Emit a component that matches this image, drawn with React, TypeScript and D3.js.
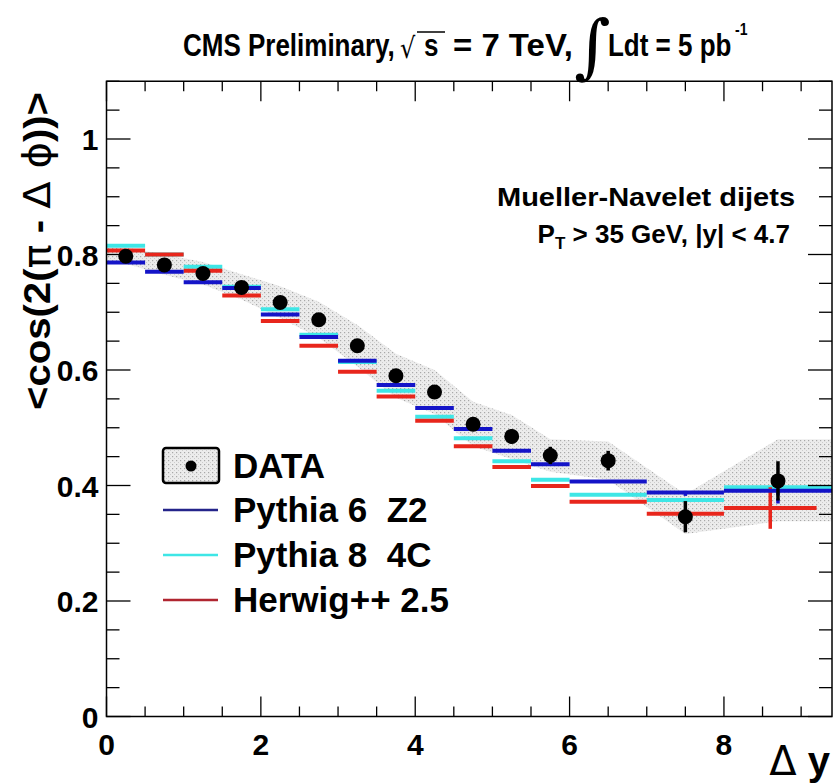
import * as d3 from "d3";

// bins in delta y
const binLo = [0, 0.5, 1, 1.5, 2, 2.5, 3, 3.5, 4, 4.5, 5, 5.5, 6, 7, 8];
const binHi = [0.5, 1, 1.5, 2, 2.5, 3, 3.5, 4, 4.5, 5, 5.5, 6, 7, 8, 9.4];
const herwigLastEdge = 9.2;

// measured points
const dataX = [0.25, 0.75, 1.25, 1.75, 2.25, 2.75, 3.25, 3.75, 4.25, 4.75, 5.25, 5.75, 6.5, 7.5, 8.7];
const dataY = [0.797, 0.782, 0.767, 0.743, 0.717, 0.687, 0.642, 0.59, 0.562, 0.506, 0.485, 0.452, 0.443, 0.346, 0.408];
const dataErr = [0.004, 0.004, 0.005, 0.005, 0.006, 0.006, 0.007, 0.008, 0.009, 0.01, 0.012, 0.015, 0.017, 0.027, 0.034];
const systHi = [0.812, 0.8, 0.787, 0.766, 0.745, 0.718, 0.678, 0.628, 0.6, 0.545, 0.522, 0.48, 0.476, 0.385, 0.48];
const systLo = [0.784, 0.765, 0.748, 0.722, 0.69, 0.656, 0.606, 0.552, 0.524, 0.468, 0.446, 0.424, 0.41, 0.316, 0.338];

// generators
const pythia6 = [0.786, 0.77, 0.752, 0.742, 0.696, 0.657, 0.616, 0.574, 0.534, 0.498, 0.46, 0.437, 0.407, 0.388, 0.391];
const pythia6Err = [0, 0, 0, 0, 0, 0, 0, 0, 0, 0, 0, 0, 0, 0.006, 0.022];
const pythia8 = [0.815, 0.8, 0.779, 0.744, 0.705, 0.661, 0.614, 0.564, 0.519, 0.482, 0.442, 0.41, 0.384, 0.375, 0.397];
const herwig = [0.807, 0.8, 0.772, 0.729, 0.685, 0.642, 0.597, 0.554, 0.512, 0.468, 0.432, 0.399, 0.372, 0.351, 0.361];
const herwigErr = [0, 0, 0, 0, 0, 0, 0, 0, 0, 0, 0, 0, 0, 0, 0.036];

const legendLabels = ["DATA", "Pythia 6  Z2", "Pythia 8  4C", "Herwig++ 2.5"];
const yTicks = [0, 0.2, 0.4, 0.6, 0.8, 1];
const xTicks = [0, 2, 4, 6, 8];

const W = 835;
const H = 783;
const FONT = "'Liberation Sans', Arial, Helvetica, sans-serif";

export default function App() {
  const x = d3.scaleLinear().domain([0, 9.4]).range([106.5, 832]);
  const y = d3.scaleLinear().domain([0, 1.1]).range([716.5, 81.25]);
  const [x0, x1] = x.range();
  const [y0, y1] = y.range();

  // band: flat from axis to first centre and from last centre to the edge
  const n = dataX.length;
  const band = [
    { x: 0, hi: systHi[0], lo: systLo[0] },
    ...dataX.map((d, i) => ({ x: d, hi: systHi[i], lo: systLo[i] })),
    { x: 9.4, hi: systHi[n - 1], lo: systLo[n - 1] },
  ];
  const area = d3
    .area<{ x: number; hi: number; lo: number }>()
    .x((d) => x(d.x))
    .y0((d) => y(d.lo))
    .y1((d) => y(d.hi));

  const series = [
    { vals: pythia8, color: "#3ee6e6", err: null as number[] | null, dash: false },
    { vals: herwig, color: "#e8261c", err: herwigErr, dash: false },
    { vals: pythia6, color: "#1414c8", err: pythia6Err, dash: true },
  ];

  const minorY = d3.range(0, 1.1001, 0.05);
  const minorX = d3.range(0, 9.4001, 0.5);

  const legY = [466, 510, 555, 600];
  const legColors = ["", "#24248a", "#3ee6e6", "#b02530"];

  return (
    <svg
      width={W}
      height={H}
      style={{ position: "absolute", left: 0, top: 0, background: "#fff" }}
      fontFamily={FONT}
    >
      <defs>
        <pattern id="dots" width={4} height={4} patternUnits="userSpaceOnUse">
          <rect width={4} height={4} fill="#ececec" />
          <rect width={1.2} height={1.2} fill="#a8a8a8" />
          <rect x={2} y={2} width={1} height={1} fill="#cccccc" />
        </pattern>
      </defs>

      {/* title: tall narrow lettering, stretched vertically */}
      <g transform="translate(0,56) scale(1,1.19)" fontWeight="bold" fontSize={26} fill="#000">
        <text x={183}>CMS Preliminary,</text>
        <text x={400} y={2} fontSize={24} fontFamily="'DejaVu Sans'" fontWeight="normal">
          √
        </text>
        <text x={424}>s</text>
        <text x={453} textLength={120} lengthAdjust="spacingAndGlyphs" style={{ whiteSpace: "pre" }}>
          = 7 TeV,
        </text>
        <text x={608}>Ldt = 5 pb</text>
        <text x={735} y={-18} fontSize={14}>
          -1
        </text>
      </g>
      <line x1={417} x2={445} y1={32} y2={32} stroke="#000" strokeWidth={1.5} />
      <text x={574} y={70} fontSize={70} fontFamily="'DejaVu Serif'" fill="#000">
        ∫
      </text>

      {/* systematic band */}
      <path d={area(band) ?? ""} fill="url(#dots)" />

      {/* generator predictions */}
      {series.map((s, si) => (
        <g key={si}>
          {s.vals.map((v, i) => {
            const hiEdge = si === 1 && i === n - 1 ? herwigLastEdge : binHi[i];
            return (
              <line
                key={i}
                x1={x(binLo[i])}
                x2={x(hiEdge)}
                y1={y(v)}
                y2={y(v)}
                stroke={s.color}
                strokeWidth={4}
              />
            );
          })}
          {s.err &&
            s.vals.map((v, i) => {
              const e = s.err![i];
              if (!e) return null;
              const hiEdge = si === 1 && i === n - 1 ? herwigLastEdge : binHi[i];
              const cx = x((binLo[i] + hiEdge) / 2);
              return (
                <line
                  key={"e" + i}
                  x1={cx}
                  x2={cx}
                  y1={y(v - e)}
                  y2={y(v + e)}
                  stroke={s.color}
                  strokeWidth={3.5}
                  strokeDasharray={s.dash ? "5,3" : undefined}
                />
              );
            })}
        </g>
      ))}

      {/* data */}
      {dataX.map((d, i) => (
        <g key={i}>
          <line
            x1={x(d)}
            x2={x(d)}
            y1={y(dataY[i] - dataErr[i])}
            y2={y(dataY[i] + dataErr[i])}
            stroke="#000"
            strokeWidth={3.5}
          />
          <circle cx={x(d)} cy={y(dataY[i])} r={7.5} fill="#000" />
        </g>
      ))}

      {/* frame and ticks */}
      <rect x={x0} y={y1} width={x1 - x0} height={y0 - y1} fill="none" stroke="#000" strokeWidth={1.5} />
      <g stroke="#000" strokeWidth={1.3}>
        {minorY.map((v, i) => {
          const L = i % 4 === 0 ? 24 : 13;
          return (
            <g key={"y" + i}>
              <line x1={x0} x2={x0 + L} y1={y(v)} y2={y(v)} />
              <line x1={x1} x2={x1 - L} y1={y(v)} y2={y(v)} />
            </g>
          );
        })}
        {minorX.map((v, i) => {
          const L = i % 4 === 0 ? 20 : 10;
          return (
            <g key={"x" + i}>
              <line x1={x(v)} x2={x(v)} y1={y0} y2={y0 - L} />
              <line x1={x(v)} x2={x(v)} y1={y1} y2={y1 + L} />
            </g>
          );
        })}
      </g>

      {/* tick labels */}
      <g fontWeight="bold" fontSize={30} fill="#000">
        {yTicks.map((v) => (
          <text key={v} x={x0 - 8} y={y(v) + 11} textAnchor="end">
            {d3.format("~g")(v)}
          </text>
        ))}
        {xTicks.map((v) => (
          <text key={v} x={x(v)} y={y0 + 38} textAnchor="middle">
            {v}
          </text>
        ))}
      </g>

      {/* axis titles */}
      <text x={830} y={775} textAnchor="end" fontSize={40} fill="#000">
        <tspan fontFamily="'DejaVu Sans'">Δ</tspan>
        <tspan fontWeight="bold"> y</tspan>
      </text>
      <text
        transform="translate(50,92) rotate(-90)"
        textAnchor="end"
        fontSize={37}
        fontWeight="bold"
        textLength={318}
        lengthAdjust="spacingAndGlyphs"
      >
        {"<cos(2("}
        <tspan fontWeight="normal" fontFamily="'DejaVu Sans'">π</tspan>
        {" - "}
        <tspan fontWeight="normal" fontFamily="'DejaVu Sans'">Δ ϕ</tspan>
        {"))>"}
      </text>

      {/* annotation */}
      <g fontWeight="bold" fontSize={26} fill="#000" textAnchor="end">
        <text x={795} y={206} textLength={298} lengthAdjust="spacingAndGlyphs">
          Mueller-Navelet dijets
        </text>
        <text x={790} y={243}>
          P<tspan fontSize={17} dy={6}>T</tspan>
          <tspan dy={-6}> &gt; 35 GeV, |y| &lt; 4.7</tspan>
        </text>
      </g>

      {/* legend */}
      <g>
        <rect x={163} y={448} width={56} height={35} rx={3} fill="url(#dots)" stroke="#000" strokeWidth={2.5} />
        <circle cx={191} cy={466} r={5.5} fill="#000" />
        {legendLabels.map((lab, i) => (
          <g key={lab}>
            {i > 0 && (
              <line x1={163} x2={218} y1={legY[i]} y2={legY[i]} stroke={legColors[i]} strokeWidth={2.5} />
            )}
            <text
              x={233}
              y={legY[i] + 12}
              fontSize={35}
              fontWeight="bold"
              fill="#000"
              style={{ whiteSpace: "pre" }}
            >
              {lab}
            </text>
          </g>
        ))}
      </g>
    </svg>
  );
}
